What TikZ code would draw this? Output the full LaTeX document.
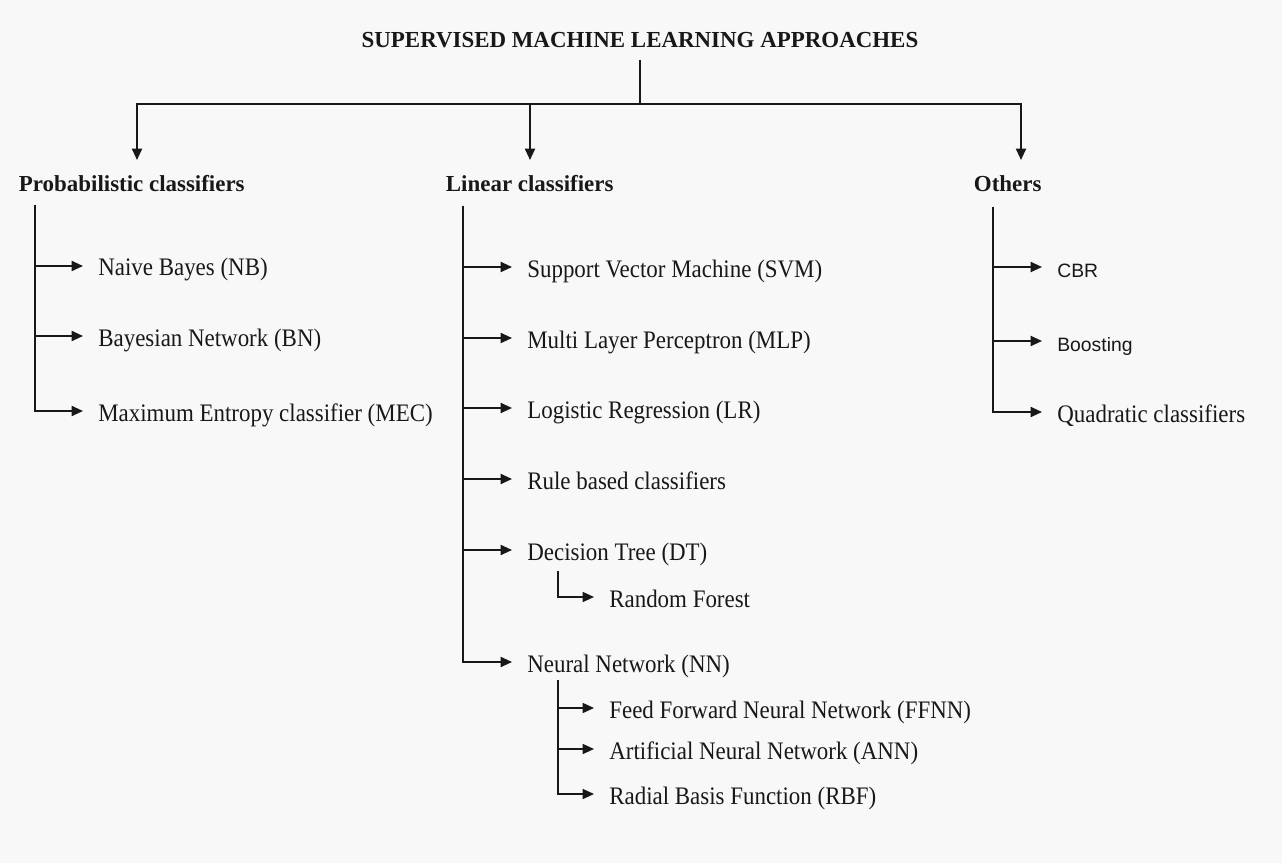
\documentclass[tikz,border=0pt]{standalone}
\usepackage{fontspec}
\setmainfont{Liberation Serif}
\setsansfont{Liberation Sans}
\newfontfamily\narrowserif[FakeStretch=0.91]{Liberation Serif}
\usetikzlibrary{arrows.meta}

\definecolor{bgcol}{RGB}{248,248,248}
\definecolor{inkcol}{RGB}{24,24,24}

\tikzset{
	every picture/.style={line width=1.4pt},
	heading/.style={anchor=base west, inner sep=0pt, text=inkcol, font=\fontsize{17.2}{20}\selectfont\bfseries},
	leaf/.style={anchor=west, inner xsep=0pt, inner ysep=0pt, outer xsep=11.5pt, outer ysep=0pt, text height=16pt, text depth=1pt, text=inkcol, font=\fontsize{18.9}{22}\narrowserif\selectfont},
	leafsans/.style={leaf, font=\fontsize{14.5}{17}\sffamily\selectfont},
	link/.style={draw=inkcol, line width=1.4pt},
	sublink/.style={link, line width=1.15pt},
	linkarrow/.style={link, -{Triangle[length=8.5pt,width=7.5pt]}},
	subarrow/.style={sublink, -{Triangle[length=8.5pt,width=7.5pt]}},
}

\begin{document}
\begin{tikzpicture}[x=0.75pt,y=0.75pt,yscale=-1,xscale=1]
	%set diagram size 1282 x 863
	\fill[bgcol] (0,0) rectangle (1282,863);
	\useasboundingbox (0,0) rectangle (1282,863);
	
	% Title
	\node[heading, anchor=base] (title) at (640,48) {SUPERVISED MACHINE LEARNING APPROACHES};
	% Headings
	\node[heading] (prob) at (18,192) {Probabilistic classifiers};
	\node[heading] (lin) at (445,192) {Linear classifiers};
	\node[heading] (oth) at (973,192) {Others};
	
	% Probabilistic classifiers
	\node[leaf] (nb) at (83,266) {Naive Bayes (NB)};
	\node[leaf] (bn) at (83,336) {Bayesian Network (BN)};
	\node[leaf] (mec) at (83,411) {Maximum Entropy classifier (MEC)};
	
	% Linear classifiers
	\node[leaf] (svm) at (512,267) {Support Vector Machine (SVM)};
	\node[leaf] (mlp) at (512,338) {Multi Layer Perceptron (MLP)};
	\node[leaf] (lr) at (512,408) {Logistic Regression (LR)};
	\node[leaf] (rule) at (512,479) {Rule based classifiers};
	\node[leaf] (dt) at (512,550) {Decision Tree (DT)};
	\node[leaf] (rf) at (594,597) {Random Forest};
	\node[leaf] (nn) at (512,662) {Neural Network (NN)};
	\node[leaf] (ffnn) at (594,708) {Feed Forward Neural Network (FFNN)};
	\node[leaf] (ann) at (594,749) {Artificial Neural Network (ANN)};
	\node[leaf] (rbf) at (594,794) {Radial Basis Function (RBF)};
	
	% Others
	\node[leafsans] (cbr) at (1042,267) {CBR};
	\node[leafsans] (boost) at (1042,341) {Boosting};
	\node[leaf] (quad) at (1042,412) {Quadratic classifiers};
	
	% Trunk points
	\coordinate (titlefoot) at (640,60);
	\coordinate (bar) at (640,104);
	\coordinate (probtip) at (137,160);
	\coordinate (lintip) at (530,160);
	\coordinate (othtip) at (1021,160);
	\coordinate (probtrunk) at (35,205);
	\coordinate (lintrunk) at (463,206);
	\coordinate (othtrunk) at (993,207);
	\coordinate (dttrunk) at (558,571);
	\coordinate (nntrunk) at (558,680);
	
	% Top connectors
	\draw[link] (titlefoot) -- (bar);
	\draw[linkarrow] (bar) -| (probtip);
	\draw[linkarrow] (bar) -| (lintip);
	\draw[linkarrow] (bar) -| (othtip);
	
	% Branches
	\foreach \leafname in {nb,bn,mec}
		\draw[linkarrow] (probtrunk) |- (\leafname.west);
	\foreach \leafname in {svm,mlp,lr,rule,dt,nn}
		\draw[linkarrow] (lintrunk) |- (\leafname.west);
	\foreach \leafname in {cbr,boost,quad}
		\draw[linkarrow] (othtrunk) |- (\leafname.west);
	\draw[subarrow] (dttrunk) |- (rf.west);
	\foreach \leafname in {ffnn,ann,rbf}
		\draw[subarrow] (nntrunk) |- (\leafname.west);
	
\end{tikzpicture}
\end{document}
